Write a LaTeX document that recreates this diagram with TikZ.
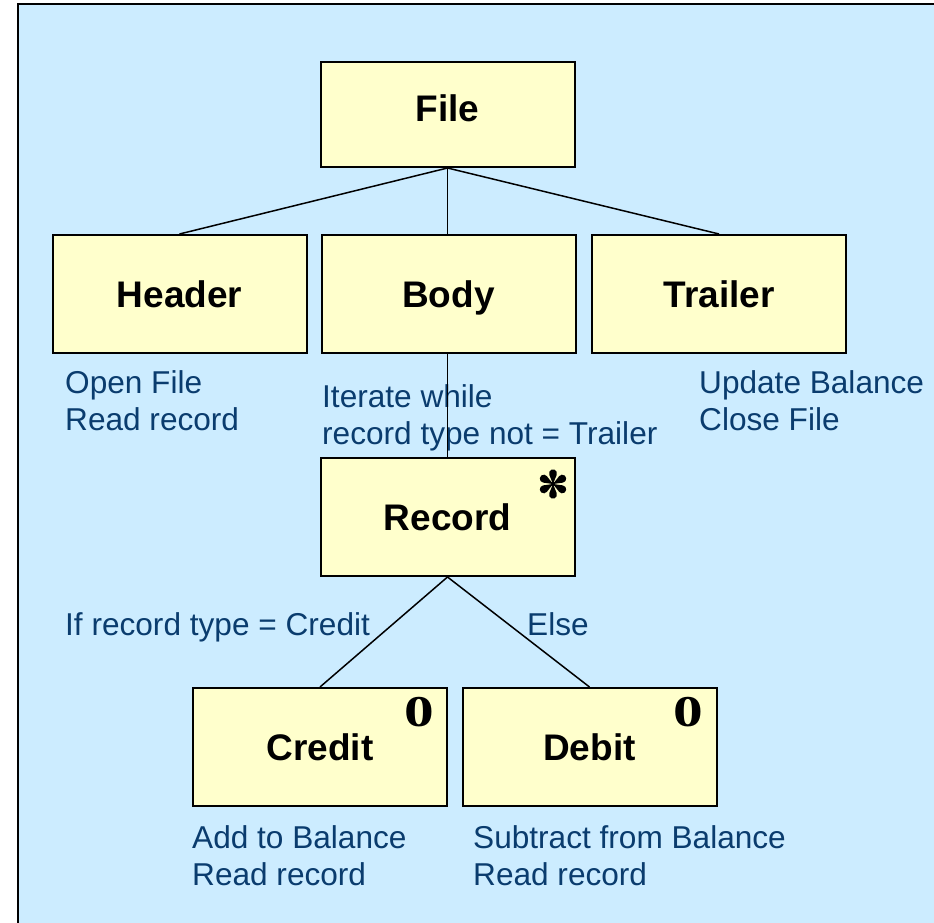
\documentclass[tikz,border=0pt]{standalone}
\usepackage{fontspec}
\setmainfont{Liberation Sans}
\newfontfamily\markfont{Liberation Serif}

\definecolor{panelblue}{RGB}{204,236,255}
\definecolor{boxyellow}{RGB}{255,255,204}
\definecolor{notetext}{RGB}{10,60,110}

\tikzset{
  unitbox/.style={draw=black, line width=2pt, fill=boxyellow, inner sep=0pt,
    minimum width=254, minimum height=118, text height=32, text depth=6,
    font=\fontsize{37}{44}\selectfont\bfseries},
  link/.style={draw=black, line width=1.5pt},
  note/.style={inner sep=0pt, align=left, text=notetext,
    font=\fontsize{31.6}{37}\selectfont},
  optmark/.style={inner sep=0pt, font=\markfont\bfseries\fontsize{44}{44}\selectfont},
}

\begin{document}
\begin{tikzpicture}[x=1pt,y=-1pt]
\useasboundingbox (0,0) rectangle (934,923);

% panel
\fill[panelblue] (18,4) rectangle (934,923);
\draw[black, line width=2.5pt] (18,923) -- (18,4) -- (934,4);

% structure boxes
\node[unitbox, minimum height=105, text depth=17] (file) at (447.5,114.5) {File};
\node[unitbox] (header)  at (179.5,294) {Header};
\node[unitbox] (body)    at (448.5,294) {Body};
\node[unitbox] (trailer) at (719,294)   {Trailer};
\node[unitbox] (record)  at (447.5,517) {Record};
\node[unitbox] (credit)  at (320,747)   {Credit};
\node[unitbox] (debit)   at (589.5,747) {Debit};

% annotations
\node[note, anchor=north west] (opennote) at (65,370) {Open File\\Read record};
\node[note, anchor=north west] (iternote) at (322,384) {Iterate while\\record type not = Trailer};
\node[note, anchor=north west] (updnote) at (699,370) {Update Balance\\Close File};
\node[note, anchor=base west] (ifnote) at (65,635) {If record type = Credit};
\node[note, anchor=base west] (elsenote) at (527,635) {Else};
\node[note, anchor=north west] (addnote) at (192,825) {Add to Balance\\Read record};
\node[note, anchor=north west] (subnote) at (473,825) {Subtract from Balance\\Read record};

% connectors
\draw[link] (file.south) -- (header.north);
\draw[link] (file.south) -- (body.north -| file.south);
\draw[link] (file.south) -- (trailer.north);
\draw[link] (body.south -| record.north) -- (record.north);
\draw[link] (record.south) -- (credit.north);
\draw[link] (record.south) -- (debit.north);

% optional markers
\node[optmark] (creditopt) at (419,712) {\scalebox{1.35}[1]{0}};
\node[optmark] (debitopt)  at (688,712) {\scalebox{1.35}[1]{0}};

% iteration marker: six teardrop spokes
\begin{scope}[shift={(553,484)}]
  \fill (0,0) circle[radius=2.4];
  \foreach \a in {0,60,...,300}{
    \fill[rotate=\a] (0,0) -- (3.70,9.17)
      arc[start angle=-22.0, end angle=202.0, radius=4.0] -- cycle;
  }
\end{scope}
\end{tikzpicture}
\end{document}
